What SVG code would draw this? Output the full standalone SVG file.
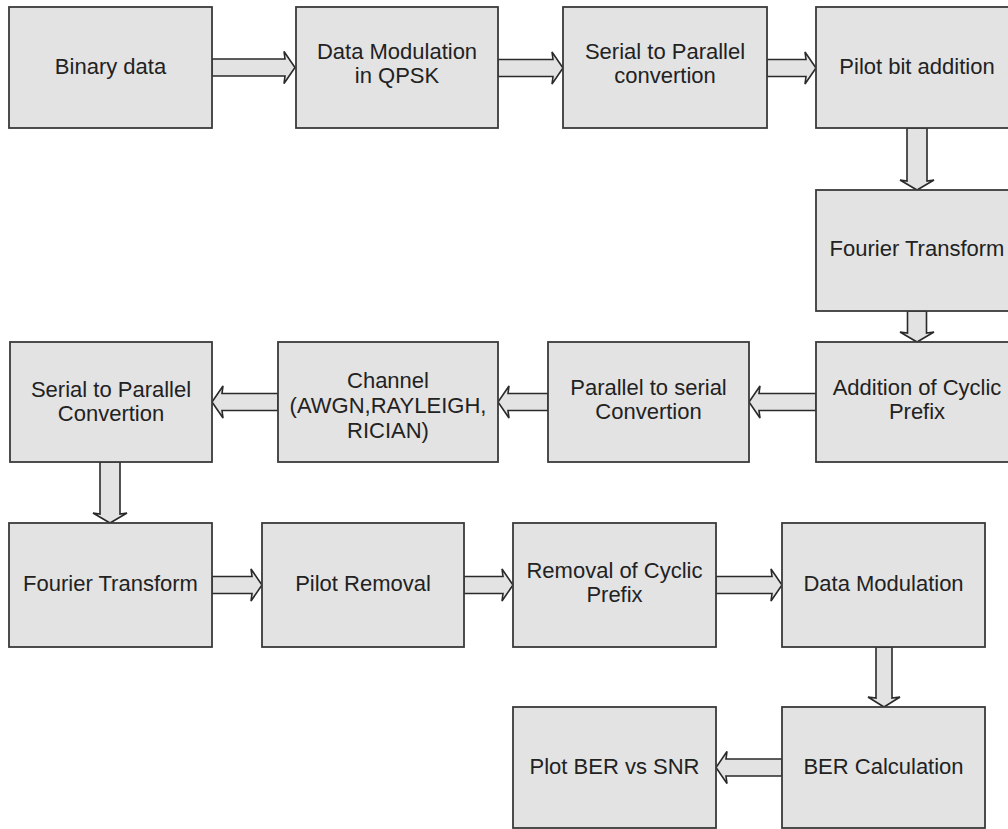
<svg xmlns="http://www.w3.org/2000/svg" width="1008" height="829" viewBox="0 0 1008 829">
<style>
.box{fill:#e3e3e3;stroke:#3a3a3a;stroke-width:1.8}
.arr{fill:#e3e3e3;stroke:#2a2a2a;stroke-width:1.6;stroke-linejoin:miter}
text{font-family:"Liberation Sans",Arial,sans-serif;font-size:22px;fill:#222;text-anchor:middle}
</style>
<rect width="1008" height="829" fill="#ffffff"/>
<g id="connectors">
<polygon class="arr" points="212,59 285,59 284,51.5 295,67.5 284,83.5 285,76 212,76"/>
<polygon class="arr" points="498,59.5 553,59.5 552,52 563,68 552,84 553,76.5 498,76.5"/>
<polygon class="arr" points="767,59.5 806,59.5 805,52 816,68 805,84 806,76.5 767,76.5"/>
<polygon class="arr" points="907,128 907,181 900,180 917,190 934,180 927,181 927,128"/>
<polygon class="arr" points="907.5,311 907.5,333 900,332 917,342 934,332 926.5,333 926.5,311"/>
<polygon class="arr" points="816,393.5 759,393.5 760,386 749,402 760,418 759,410.5 816,410.5"/>
<polygon class="arr" points="548,393.5 508,393.5 509,386 498,402 509,418 508,410.5 548,410.5"/>
<polygon class="arr" points="278,393.5 222,393.5 223,386 212,402 223,418 222,410.5 278,410.5"/>
<polygon class="arr" points="100,462 100,514 93,513 110,523 127,513 120,514 120,462"/>
<polygon class="arr" points="212,576.5 252,576.5 251,569 262,585 251,601 252,593.5 212,593.5"/>
<polygon class="arr" points="464,576.5 503,576.5 502,569 513,585 502,601 503,593.5 464,593.5"/>
<polygon class="arr" points="716,576.5 772,576.5 771,569 782,585 771,601 772,593.5 716,593.5"/>
<polygon class="arr" points="876,647 876,698 868,697 884,707 900,697 892,698 892,647"/>
<polygon class="arr" points="782,759 726,759 727,751.5 716,767.5 727,783.5 726,776 782,776"/>
</g>
<g id="n1"><rect class="box" x="9" y="7" width="203" height="121"/><text x="110.5" y="74">Binary data</text></g>
<g id="n2"><rect class="box" x="296" y="7" width="202" height="121"/><text x="397" y="59">Data Modulation<tspan x="397" dy="24">in QPSK</tspan></text></g>
<g id="n3"><rect class="box" x="563" y="7" width="204" height="121"/><text x="665" y="59">Serial to Parallel<tspan x="665" dy="24">convertion</tspan></text></g>
<g id="n4"><rect class="box" x="816" y="7" width="202" height="121"/><text x="917" y="74">Pilot bit addition</text></g>
<g id="n5"><rect class="box" x="816" y="190" width="202" height="121"/><text x="917" y="256">Fourier Transform</text></g>
<g id="n6"><rect class="box" x="816" y="342" width="202" height="120"/><text x="917" y="395">Addition of Cyclic<tspan x="917" dy="24">Prefix</tspan></text></g>
<g id="n7"><rect class="box" x="548" y="342" width="201" height="120"/><text x="648.5" y="395">Parallel to serial<tspan x="648.5" dy="24">Convertion</tspan></text></g>
<g id="n8"><rect class="box" x="278" y="342" width="220" height="120"/><text x="388" y="388">Channel<tspan x="388" dy="25">(AWGN,RAYLEIGH,</tspan><tspan x="388" dy="25">RICIAN)</tspan></text></g>
<g id="n9"><rect class="box" x="10" y="342" width="202" height="120"/><text x="111" y="397">Serial to Parallel<tspan x="111" dy="24">Convertion</tspan></text></g>
<g id="n10"><rect class="box" x="9" y="523" width="203" height="124"/><text x="110.5" y="591">Fourier Transform</text></g>
<g id="n11"><rect class="box" x="262" y="523" width="202" height="124"/><text x="363" y="591">Pilot Removal</text></g>
<g id="n12"><rect class="box" x="513" y="523" width="203" height="124"/><text x="614.5" y="578">Removal of Cyclic<tspan x="614.5" dy="24">Prefix</tspan></text></g>
<g id="n13"><rect class="box" x="782" y="523" width="203" height="124"/><text x="883.5" y="591">Data Modulation</text></g>
<g id="n14"><rect class="box" x="782" y="707" width="203" height="121"/><text x="883.5" y="774">BER Calculation</text></g>
<g id="n15"><rect class="box" x="513" y="707" width="203" height="121"/><text x="614.5" y="774">Plot BER vs SNR</text></g>
</svg>
